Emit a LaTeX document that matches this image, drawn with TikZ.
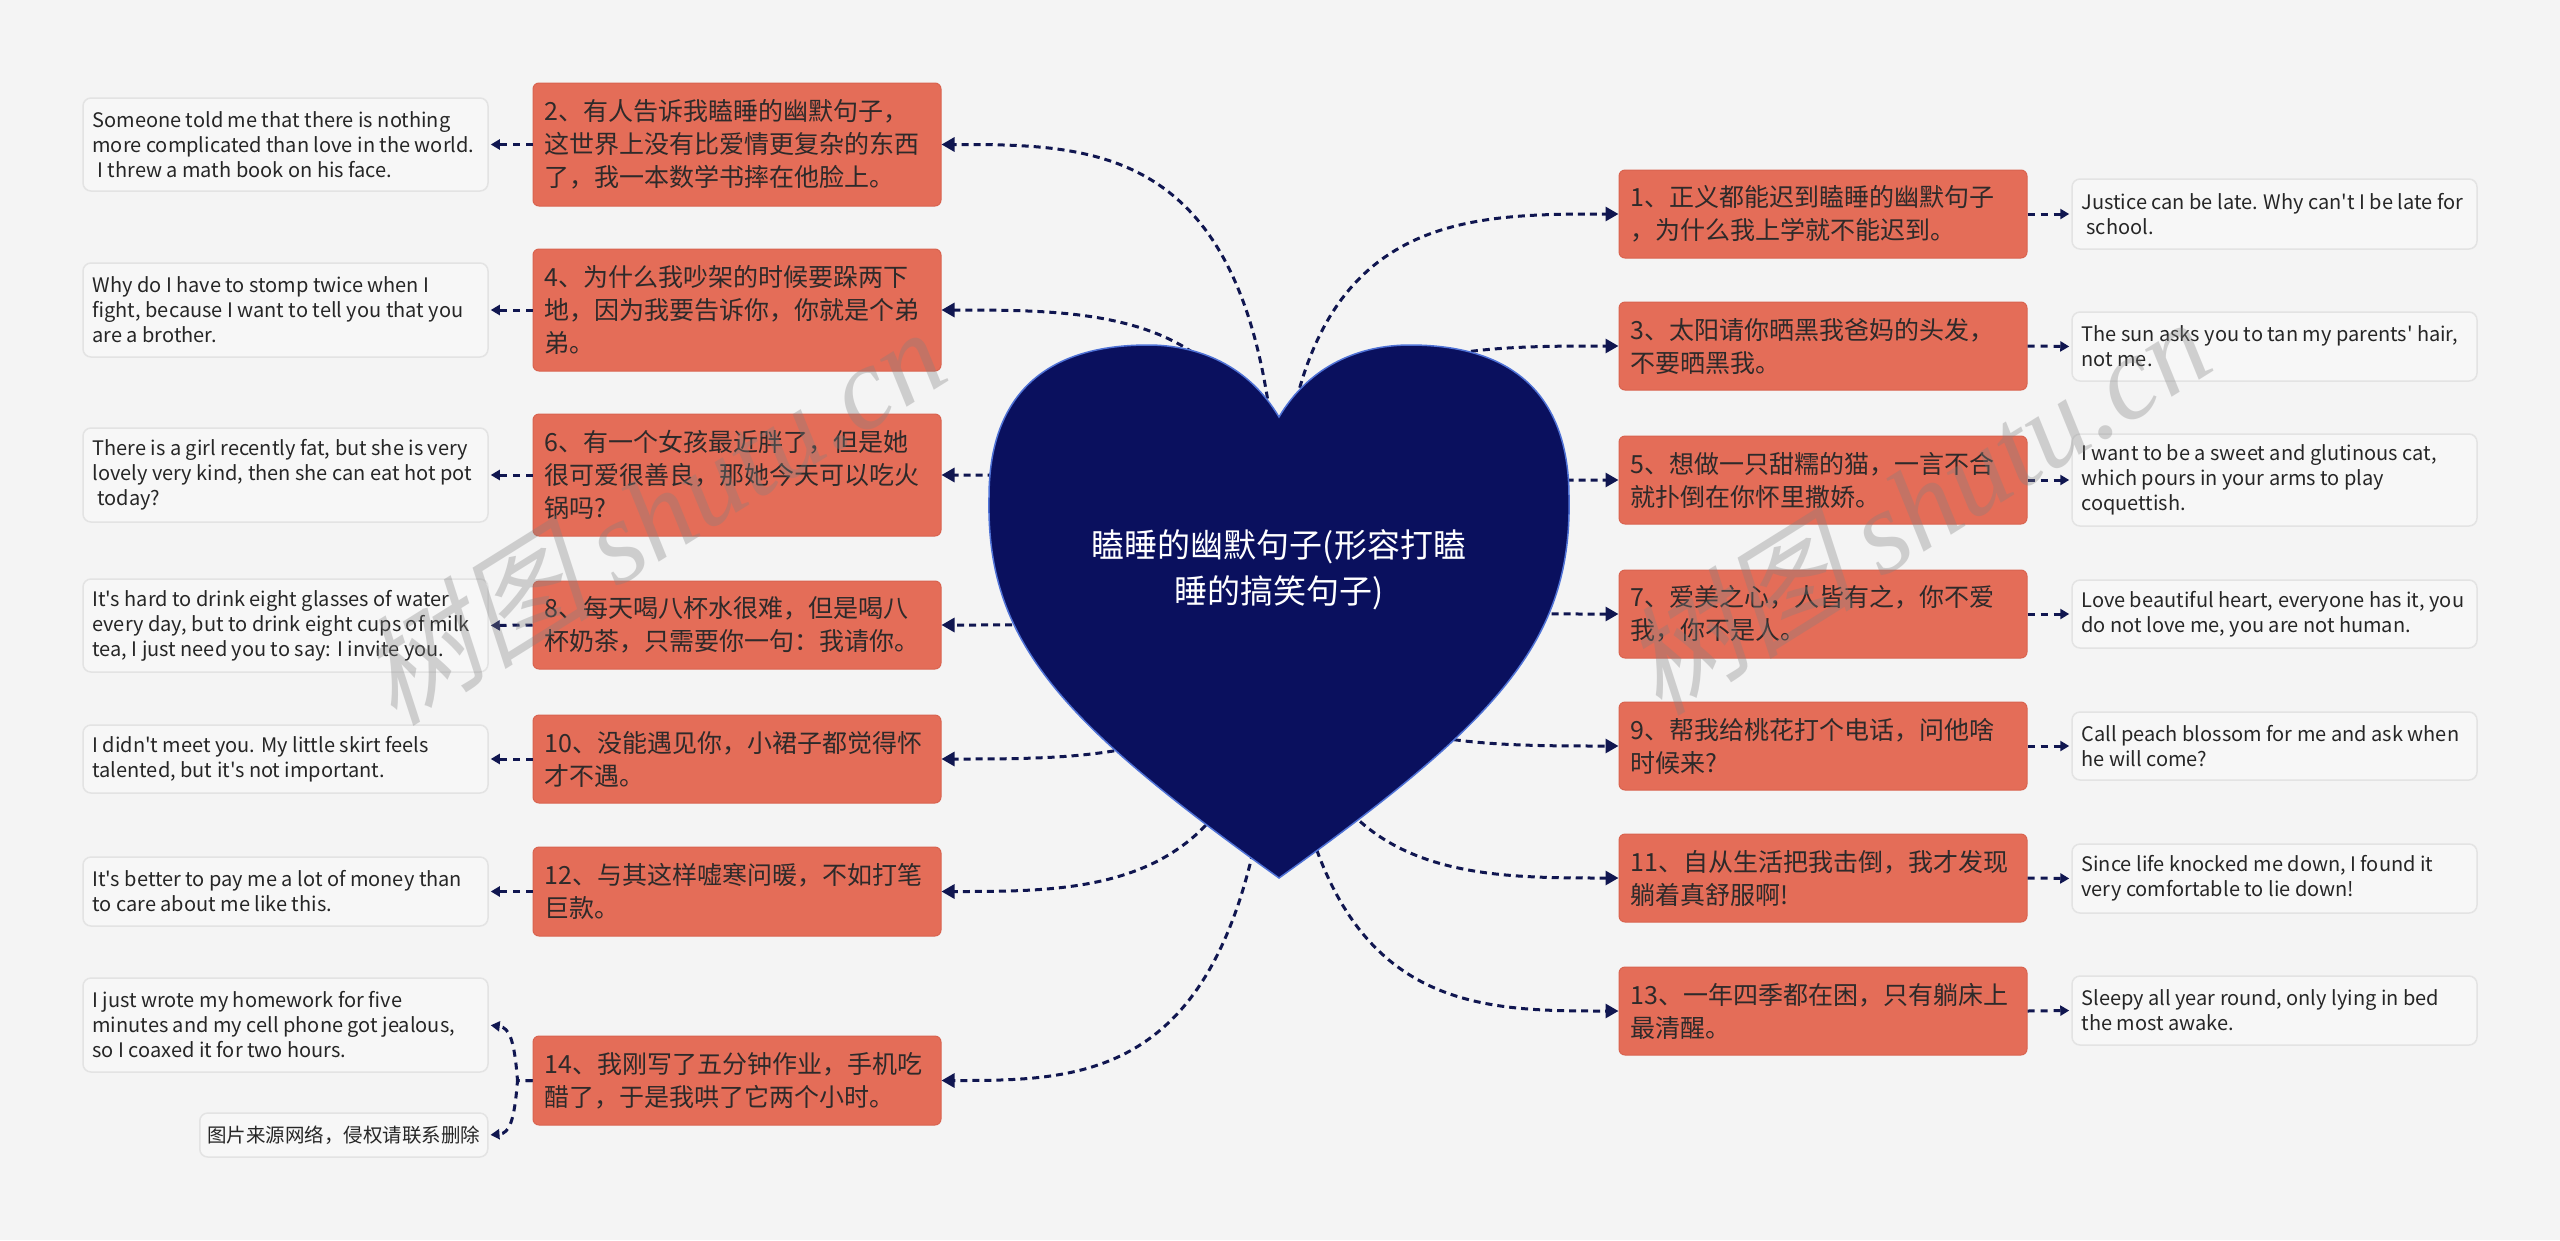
\documentclass[tikz,border=0pt]{standalone}
\usepackage{fontspec}
\setmainfont{Noto Sans CJK SC}
\newfontfamily\enf[Ligatures=TeXOff]{Noto Sans CJK SC}
\newfontfamily\wmcjk[FakeSlant=0.25]{Noto Sans CJK SC}
\newfontfamily\wmlat{Liberation Serif}
\usetikzlibrary{arrows.meta,calc}
\definecolor{bgc}{HTML}{F4F4F4}
\definecolor{orc}{HTML}{E46D58}
\definecolor{orb}{HTML}{D9634F}
\definecolor{otx}{HTML}{2E2A2A}
\definecolor{wbf}{HTML}{F7F7F7}
\definecolor{wbd}{HTML}{E3E3E3}
\definecolor{navy}{HTML}{0A105E}
\definecolor{hbd}{HTML}{4F72D6}
\definecolor{lnc}{HTML}{101650}
\definecolor{wtc}{HTML}{262626}
\tikzset{
 obox/.style={fill=orc, draw=orb, line width=1pt, rounded corners=6pt, minimum width=408pt, inner sep=0pt},
 otxt/.style={text=otx, align=left, inner sep=0pt, font=\fontsize{25}{33}\selectfont},
 wbox/.style={fill=wbf, draw=wbd, line width=1.5pt, rounded corners=8pt, minimum width=405pt, inner sep=0pt},
 wtxt/.style={text=wtc, align=left, inner sep=0pt, font=\enf\fontsize{20}{25}\selectfont},
 mainline/.style={draw=lnc, line width=3pt, dash pattern=on 7pt off 5pt, -{Triangle[length=13pt,width=14pt]}},
 shortline/.style={draw=lnc, line width=3pt, dash pattern=on 7pt off 6pt, shorten >=2pt, -{Triangle[length=9pt,width=10pt]}},
 wmark/.style={text=gray, opacity=0.33, rotate=32, inner sep=0pt},
}
\newcommand\OB[5]{\node[obox,minimum height=#4pt] (#1) at (#2,#3) {};
 \node[otxt,anchor=west] (#1t) at ([xshift=12pt]#1.west) {#5};}
\newcommand\WB[5]{\node[wbox,minimum height=#4pt] (#1) at (#2,#3) {};
 \node[wtxt,anchor=west] (#1t) at ([xshift=10pt]#1.west) {#5};}
\begin{document}
\begin{tikzpicture}[x=1pt,y=-1pt]
\fill[bgc] (0,0) rectangle (2560,1240);
\useasboundingbox (0,0) rectangle (2560,1240);
\coordinate (hc) at (1279,566);
% left orange
\OB{B2}{737}{144.5}{123}{2、有人告诉我瞌睡的幽默句子，\\这世界上没有比爱情更复杂的东西\\了，我一本数学书摔在他脸上。}
\OB{B4}{737}{310}{122}{4、为什么我吵架的时候要跺两下\\地，因为我要告诉你，你就是个弟\\弟。}
\OB{B6}{737}{475}{122}{6、有一个女孩最近胖了，但是她\\很可爱很善良，那她今天可以吃火\\锅吗?}
\OB{B8}{737}{625}{88}{8、每天喝八杯水很难，但是喝八\\杯奶茶，只需要你一句：我请你。}
\OB{B10}{737}{759}{88}{10、没能遇见你，小裙子都觉得怀\\才不遇。}
\OB{B12}{737}{891.5}{89}{12、与其这样嘘寒问暖，不如打笔\\巨款。}
\OB{B14}{737}{1080.5}{89}{14、我刚写了五分钟作业，手机吃\\醋了，于是我哄了它两个小时。}
% right orange
\OB{B1}{1823}{214}{88}{1、正义都能迟到瞌睡的幽默句子\\，为什么我上学就不能迟到。}
\OB{B3}{1823}{346}{88}{3、太阳请你晒黑我爸妈的头发，\\不要晒黑我。}
\OB{B5}{1823}{480}{88}{5、想做一只甜糯的猫，一言不合\\就扑倒在你怀里撒娇。}
\OB{B7}{1823}{614}{88}{7、爱美之心，人皆有之，你不爱\\我，你不是人。}
\OB{B9}{1823}{746}{88}{9、帮我给桃花打个电话，问他啥\\时候来?}
\OB{B11}{1823}{878}{88}{11、自从生活把我击倒，我才发现\\躺着真舒服啊!}
\OB{B13}{1823}{1011}{88}{13、一年四季都在困，只有躺床上\\最清醒。}
% left white
\WB{W2}{285.5}{144.5}{93}{Someone told me that there is nothing\\more complicated than love in the world.\\\hspace{5pt}I threw a math book on his face.}
\WB{W4}{285.5}{310}{94}{Why do I have to stomp twice when I\\fight, because I want to tell you that you\\are a brother.}
\WB{W6}{285.5}{475}{94}{There is a girl recently fat, but she is very\\lovely very kind, then she can eat hot pot\\\hspace{5pt}today?}
\WB{W8}{285.5}{625.5}{93}{It's hard to drink eight glasses of water\\every day, but to drink eight cups of milk\\tea, I just need you to say: I invite you.}
\WB{W10}{285.5}{759}{68}{I didn't meet you. My little skirt feels\\talented, but it's not important.}
\WB{W12}{285.5}{891.5}{69}{It's better to pay me a lot of money than\\to care about me like this.}
\WB{W14}{285.5}{1025}{94}{I just wrote my homework for five\\minutes and my cell phone got jealous,\\so I coaxed it for two hours.}
\node[wbox, minimum width=288pt, minimum height=44pt] (F) at (343.75,1135) {};
\node[wtxt, font=\fontsize{19.5}{25}\selectfont] (Ft) at (F.center) {图片来源网络，侵权请联系删除};
% right white
\WB{W1}{2274.5}{214}{70}{Justice can be late. Why can't I be late for\\\hspace{5pt}school.}
\WB{W3}{2274.5}{346.5}{69}{The sun asks you to tan my parents' hair,\\not me.}
\WB{W5}{2274.5}{480}{92}{I want to be a sweet and glutinous cat,\\which pours in your arms to play\\coquettish.}
\WB{W7}{2274.5}{614}{68}{Love beautiful heart, everyone has it, you\\do not love me, you are not human.}
\WB{W9}{2274.5}{746}{68}{Call peach blossom for me and ask when\\he will come?}
\WB{W11}{2274.5}{878.5}{69}{Since life knocked me down, I found it\\very comfortable to lie down!}
\WB{W13}{2274.5}{1010.5}{69}{Sleepy all year round, only lying in bed\\the most awake.}
% main connectors
\foreach \b in {B2,B4,B6,B8,B10,B12,B14}
  \draw[mainline] (hc) .. controls (hc |- \b.east) and ($(hc |- \b.east)!0.5!(\b.east)$) .. (\b.east);
\foreach \b in {B1,B3,B5,B7,B9,B11,B13}
  \draw[mainline] (hc) .. controls (hc |- \b.west) and ($(hc |- \b.west)!0.5!(\b.west)$) .. (\b.west);
% heart
\path[fill=navy, draw=hbd, line width=1.5pt]
 (1279,417) .. controls (1310,365) and (1360,345) .. (1410,345)
 .. controls (1518,345) and (1569,400) .. (1569,497)
 .. controls (1572,640) and (1500,720) .. (1279,878)
 .. controls (1058,720) and (986,640) .. (989,497)
 .. controls (989,400) and (1040,345) .. (1148,345)
 .. controls (1198,345) and (1248,365) .. (1279,417) -- cycle;
\node[text=white, align=center, inner sep=0pt, font=\fontsize{33}{46}\selectfont] (heart) at (1279,570) {瞌睡的幽默句子(形容打瞌\\睡的搞笑句子)};
% short connectors
\foreach \n in {2,4,6,8,10,12}
  \draw[shortline] (B\n.west) -- (W\n.east);
\foreach \n in {1,3,5,7,9,11,13}
  \draw[shortline] (B\n.east) -- (W\n.west);
\coordinate (j14) at ($(B14.west)+(-15,0)$);
\draw[shortline] (B14.west) -- (j14) .. controls ($(j14)+(-3,-40)$) and ($(j14)+(-8,-53)$) .. (W14.east);
\draw[shortline] (B14.west) -- (j14) .. controls ($(j14)+(-3,40)$) and ($(j14)+(-8,53)$) .. (F.east);
% watermark
\node[wmark] (wm1) at (650,515) {\fontsize{118}{118}\selectfont{\wmcjk 树图} {\wmlat\itshape shutu.cn}};
\node[wmark] (wm2) at (1915,505) {\fontsize{118}{118}\selectfont{\wmcjk 树图} {\wmlat\itshape shutu.cn}};
\end{tikzpicture}
\end{document}
